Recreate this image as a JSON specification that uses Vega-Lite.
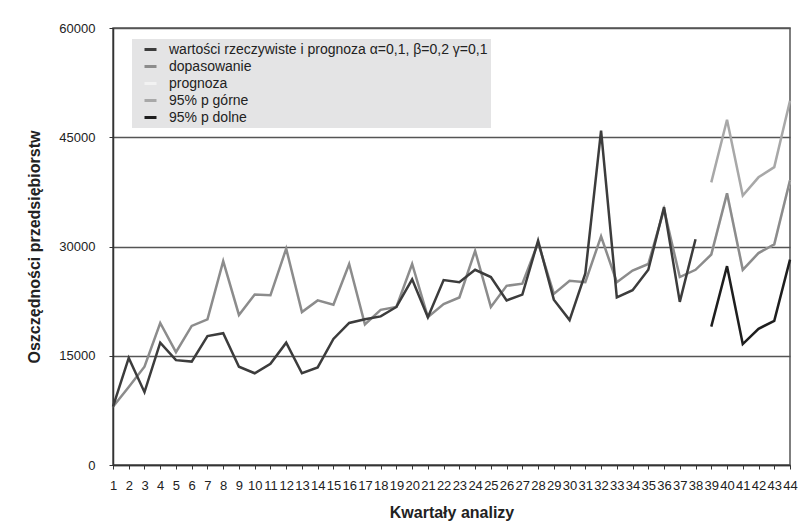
{
  "$schema": "https://vega.github.io/schema/vega-lite/v6.json",
  "autosize": {"type": "none"},
  "width": 677,
  "height": 437,
  "padding": {"left": 113, "top": 28, "right": 8, "bottom": 56},
  "background": "white",
  "config": {
    "font": "Liberation Sans",
    "view": {"stroke": "#555555", "strokeWidth": 1.5},
    "axis": {"labelFont": "Liberation Sans", "titleFont": "Liberation Sans", "labelColor": "#222222", "titleColor": "#222222"}
  },
  "datasets": {
    "d": [
      {"k": 1, "s": "wartości rzeczywiste i prognoza α=0,1, β=0,2 γ=0,1", "v": 8000},
      {"k": 2, "s": "wartości rzeczywiste i prognoza α=0,1, β=0,2 γ=0,1", "v": 14700},
      {"k": 3, "s": "wartości rzeczywiste i prognoza α=0,1, β=0,2 γ=0,1", "v": 10000},
      {"k": 4, "s": "wartości rzeczywiste i prognoza α=0,1, β=0,2 γ=0,1", "v": 16800},
      {"k": 5, "s": "wartości rzeczywiste i prognoza α=0,1, β=0,2 γ=0,1", "v": 14400},
      {"k": 6, "s": "wartości rzeczywiste i prognoza α=0,1, β=0,2 γ=0,1", "v": 14200},
      {"k": 7, "s": "wartości rzeczywiste i prognoza α=0,1, β=0,2 γ=0,1", "v": 17700},
      {"k": 8, "s": "wartości rzeczywiste i prognoza α=0,1, β=0,2 γ=0,1", "v": 18100},
      {"k": 9, "s": "wartości rzeczywiste i prognoza α=0,1, β=0,2 γ=0,1", "v": 13500},
      {"k": 10, "s": "wartości rzeczywiste i prognoza α=0,1, β=0,2 γ=0,1", "v": 12600},
      {"k": 11, "s": "wartości rzeczywiste i prognoza α=0,1, β=0,2 γ=0,1", "v": 13900},
      {"k": 12, "s": "wartości rzeczywiste i prognoza α=0,1, β=0,2 γ=0,1", "v": 16800},
      {"k": 13, "s": "wartości rzeczywiste i prognoza α=0,1, β=0,2 γ=0,1", "v": 12600},
      {"k": 14, "s": "wartości rzeczywiste i prognoza α=0,1, β=0,2 γ=0,1", "v": 13400},
      {"k": 15, "s": "wartości rzeczywiste i prognoza α=0,1, β=0,2 γ=0,1", "v": 17300},
      {"k": 16, "s": "wartości rzeczywiste i prognoza α=0,1, β=0,2 γ=0,1", "v": 19500},
      {"k": 17, "s": "wartości rzeczywiste i prognoza α=0,1, β=0,2 γ=0,1", "v": 20000},
      {"k": 18, "s": "wartości rzeczywiste i prognoza α=0,1, β=0,2 γ=0,1", "v": 20400},
      {"k": 19, "s": "wartości rzeczywiste i prognoza α=0,1, β=0,2 γ=0,1", "v": 21700},
      {"k": 20, "s": "wartości rzeczywiste i prognoza α=0,1, β=0,2 γ=0,1", "v": 25500},
      {"k": 21, "s": "wartości rzeczywiste i prognoza α=0,1, β=0,2 γ=0,1", "v": 20300},
      {"k": 22, "s": "wartości rzeczywiste i prognoza α=0,1, β=0,2 γ=0,1", "v": 25400},
      {"k": 23, "s": "wartości rzeczywiste i prognoza α=0,1, β=0,2 γ=0,1", "v": 25100},
      {"k": 24, "s": "wartości rzeczywiste i prognoza α=0,1, β=0,2 γ=0,1", "v": 26800},
      {"k": 25, "s": "wartości rzeczywiste i prognoza α=0,1, β=0,2 γ=0,1", "v": 25800},
      {"k": 26, "s": "wartości rzeczywiste i prognoza α=0,1, β=0,2 γ=0,1", "v": 22600},
      {"k": 27, "s": "wartości rzeczywiste i prognoza α=0,1, β=0,2 γ=0,1", "v": 23400},
      {"k": 28, "s": "wartości rzeczywiste i prognoza α=0,1, β=0,2 γ=0,1", "v": 30800},
      {"k": 29, "s": "wartości rzeczywiste i prognoza α=0,1, β=0,2 γ=0,1", "v": 22700},
      {"k": 30, "s": "wartości rzeczywiste i prognoza α=0,1, β=0,2 γ=0,1", "v": 19900},
      {"k": 31, "s": "wartości rzeczywiste i prognoza α=0,1, β=0,2 γ=0,1", "v": 26300},
      {"k": 32, "s": "wartości rzeczywiste i prognoza α=0,1, β=0,2 γ=0,1", "v": 45900},
      {"k": 33, "s": "wartości rzeczywiste i prognoza α=0,1, β=0,2 γ=0,1", "v": 23000},
      {"k": 34, "s": "wartości rzeczywiste i prognoza α=0,1, β=0,2 γ=0,1", "v": 24000},
      {"k": 35, "s": "wartości rzeczywiste i prognoza α=0,1, β=0,2 γ=0,1", "v": 26800},
      {"k": 36, "s": "wartości rzeczywiste i prognoza α=0,1, β=0,2 γ=0,1", "v": 35400},
      {"k": 37, "s": "wartości rzeczywiste i prognoza α=0,1, β=0,2 γ=0,1", "v": 22400},
      {"k": 38, "s": "wartości rzeczywiste i prognoza α=0,1, β=0,2 γ=0,1", "v": 31000},
      {"k": 1, "s": "dopasowanie", "v": 8000},
      {"k": 2, "s": "dopasowanie", "v": 10700},
      {"k": 3, "s": "dopasowanie", "v": 13500},
      {"k": 4, "s": "dopasowanie", "v": 19500},
      {"k": 5, "s": "dopasowanie", "v": 15500},
      {"k": 6, "s": "dopasowanie", "v": 19100},
      {"k": 7, "s": "dopasowanie", "v": 20000},
      {"k": 8, "s": "dopasowanie", "v": 28000},
      {"k": 9, "s": "dopasowanie", "v": 20600},
      {"k": 10, "s": "dopasowanie", "v": 23400},
      {"k": 11, "s": "dopasowanie", "v": 23300},
      {"k": 12, "s": "dopasowanie", "v": 29700},
      {"k": 13, "s": "dopasowanie", "v": 21000},
      {"k": 14, "s": "dopasowanie", "v": 22600},
      {"k": 15, "s": "dopasowanie", "v": 22000},
      {"k": 16, "s": "dopasowanie", "v": 27600},
      {"k": 17, "s": "dopasowanie", "v": 19300},
      {"k": 18, "s": "dopasowanie", "v": 21300},
      {"k": 19, "s": "dopasowanie", "v": 21700},
      {"k": 20, "s": "dopasowanie", "v": 27600},
      {"k": 21, "s": "dopasowanie", "v": 20300},
      {"k": 22, "s": "dopasowanie", "v": 22100},
      {"k": 23, "s": "dopasowanie", "v": 23000},
      {"k": 24, "s": "dopasowanie", "v": 29400},
      {"k": 25, "s": "dopasowanie", "v": 21700},
      {"k": 26, "s": "dopasowanie", "v": 24600},
      {"k": 27, "s": "dopasowanie", "v": 24900},
      {"k": 28, "s": "dopasowanie", "v": 30500},
      {"k": 29, "s": "dopasowanie", "v": 23500},
      {"k": 30, "s": "dopasowanie", "v": 25300},
      {"k": 31, "s": "dopasowanie", "v": 25100},
      {"k": 32, "s": "dopasowanie", "v": 31400},
      {"k": 33, "s": "dopasowanie", "v": 25100},
      {"k": 34, "s": "dopasowanie", "v": 26700},
      {"k": 35, "s": "dopasowanie", "v": 27600},
      {"k": 36, "s": "dopasowanie", "v": 35100},
      {"k": 37, "s": "dopasowanie", "v": 25800},
      {"k": 38, "s": "dopasowanie", "v": 26800},
      {"k": 39, "s": "dopasowanie", "v": 28900},
      {"k": 40, "s": "dopasowanie", "v": 37300},
      {"k": 41, "s": "dopasowanie", "v": 26800},
      {"k": 42, "s": "dopasowanie", "v": 29100},
      {"k": 43, "s": "dopasowanie", "v": 30300},
      {"k": 44, "s": "dopasowanie", "v": 39100},
      {"k": 39, "s": "prognoza", "v": 28900},
      {"k": 40, "s": "prognoza", "v": 37300},
      {"k": 41, "s": "prognoza", "v": 26800},
      {"k": 42, "s": "prognoza", "v": 29100},
      {"k": 43, "s": "prognoza", "v": 30300},
      {"k": 44, "s": "prognoza", "v": 39100},
      {"k": 39, "s": "95% p górne", "v": 38800},
      {"k": 40, "s": "95% p górne", "v": 47400},
      {"k": 41, "s": "95% p górne", "v": 37000},
      {"k": 42, "s": "95% p górne", "v": 39500},
      {"k": 43, "s": "95% p górne", "v": 40900},
      {"k": 44, "s": "95% p górne", "v": 50000},
      {"k": 39, "s": "95% p dolne", "v": 19000},
      {"k": 40, "s": "95% p dolne", "v": 27300},
      {"k": 41, "s": "95% p dolne", "v": 16600},
      {"k": 42, "s": "95% p dolne", "v": 18700},
      {"k": 43, "s": "95% p dolne", "v": 19800},
      {"k": 44, "s": "95% p dolne", "v": 28200}
    ]
  },
  "data": {"name": "d"},
  "encoding": {
    "x": {
      "field": "k", "type": "quantitative",
      "scale": {"domain": [1, 44], "nice": false, "zero": false},
      "axis": {
        "values": [1,2,3,4,5,6,7,8,9,10,11,12,13,14,15,16,17,18,19,20,21,22,23,24,25,26,27,28,29,30,31,32,33,34,35,36,37,38,39,40,41,42,43,44],
        "format": "d", "grid": false, "labelOverlap": false, "labelFlush": false,
        "labelFontSize": 13, "labelPadding": 10, "tickSize": 4, "tickColor": "#333333", "domainColor": "#333333", "domainWidth": 1.5,
        "title": "Kwartały analizy", "titleFontSize": 16, "titleFontWeight": "bold", "titlePadding": 12
      }
    },
    "y": {
      "field": "v", "type": "quantitative",
      "scale": {"domain": [0, 60000], "nice": false},
      "axis": {
        "values": [0, 15000, 30000, 45000, 60000], "format": "d",
        "grid": true, "gridColor": "#555555", "gridWidth": 1.5,
        "labelFontSize": 13, "labelPadding": 14, "tickSize": 4, "tickColor": "#333333", "domainColor": "#333333", "domainWidth": 1.5,
        "title": "Oszczędności przedsiębiorstw", "titleFontSize": 16, "titleFontWeight": "bold", "titlePadding": 16
      }
    },
    "color": {
      "field": "s", "type": "nominal",
      "scale": {
        "domain": ["wartości rzeczywiste i prognoza α=0,1, β=0,2 γ=0,1", "dopasowanie", "prognoza", "95% p górne", "95% p dolne"],
        "range": ["#3c3c3c", "#8c8c8c", "#f2f2f2", "#a8a8a8", "#1e1e1e"]
      },
      "legend": {
        "title": null, "orient": "none", "legendX": 19, "legendY": 11,
        "fillColor": "#e4e4e5", "padding": 3, "rowPadding": 2,
        "symbolType": "stroke", "symbolStrokeWidth": 3, "symbolSize": 144, "symbolOffset": 8,
        "labelFontSize": 14, "labelColor": "#222222", "labelOffset": 11, "labelLimit": 500
      }
    }
  },
  "layer": [
    {"transform": [{"filter": "datum.s === 'prognoza'"}], "mark": {"type": "line", "strokeWidth": 2.5}},
    {"transform": [{"filter": "datum.s === 'dopasowanie' || datum.s === '95% p górne' || datum.s === '95% p dolne'"}], "mark": {"type": "line", "strokeWidth": 2.5}},
    {"transform": [{"filter": "datum.s === 'wartości rzeczywiste i prognoza α=0,1, β=0,2 γ=0,1'"}], "mark": {"type": "line", "strokeWidth": 2.5}}
  ]
}
